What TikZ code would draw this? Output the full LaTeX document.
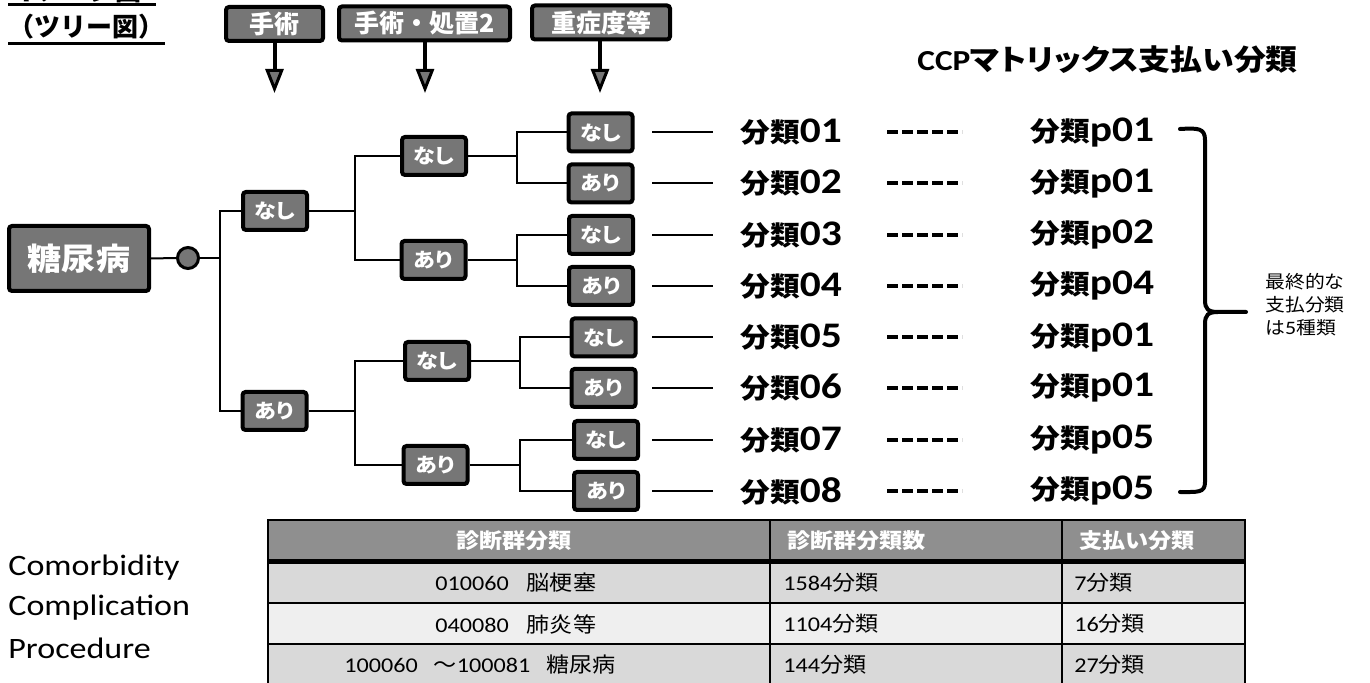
\documentclass[tikz,border=0pt]{standalone}
\usepackage{fontspec}
\setmainfont{Carlito}[FakeStretch=1.15]
\newfontfamily\J{Noto Sans CJK JP}[RawFeature=+palt,FakeStretch=1.1]
\newfontfamily\JN{Noto Sans CJK JP}[FakeStretch=1.1]
\newfontfamily\JW{Noto Sans CJK JP}
\usetikzlibrary{arrows.meta,calc}
\definecolor{boxgray}{HTML}{767676}
\definecolor{hdrgray}{HTML}{8F8F8F}
\definecolor{rowA}{HTML}{D9D9D9}
\definecolor{rowB}{HTML}{EFEFEF}
\newcommand{\fs}[1]{\fontsize{#1}{#1}\selectfont}
\newcommand{\jc}[1]{{\J\fs{10.5pt}#1}}
\begin{document}
\begin{tikzpicture}[x=0.5pt,y=-0.5pt,
  gbox/.style={draw=black,line width=2pt,fill=boxgray,rounded corners=1.5pt,text=white,inner sep=0pt,font=\J\bfseries\fs{10pt}},
  lvbox/.style={gbox,minimum width=32pt,minimum height=19pt},
  hbox/.style={gbox,minimum height=17pt,font=\JW\bfseries\fs{12.5pt}},
  tl/.style={line width=1pt},
  harrow/.style={line width=2pt,-{Triangle[width=9pt,length=12pt,fill=boxgray,line width=1.5pt]}},
  cls/.style={anchor=west,inner sep=0pt,font=\bfseries\fs{18pt}},
  dsh/.style={line width=2pt,dash pattern=on 5.5pt off 2pt},
  cell/.style={font=\fs{10.5pt},inner sep=0pt},
  hcell/.style={font=\J\bfseries\fs{10.5pt},text=white}
]
\useasboundingbox (0,0) rectangle (1370,683);
% title
\node[anchor=west,font=\JW\bfseries\fs{13pt},inner sep=0pt] (ttop) at (12,-9) {イメージ図};
\draw[line width=1.5pt] (8,5) -- (156,5);
\node[anchor=west,font=\JW\bfseries\fs{13pt},inner sep=0pt] (ttl) at (8,27) {（ツリー図）};
\draw[line width=1.5pt] (ttl.south west |- 0,44) -- (ttl.south east |- 0,44);
% header boxes
\node[hbox,minimum width=48.5pt] (h1) at (274.5,24) {手術};
\node[hbox,minimum width=85.5pt] (h2) at (424.5,23.5) {手術・処置2};
\node[hbox,minimum width=69pt] (h3) at (601,22.5) {重症度等};
\coordinate (t1) at (274.5,93);
\coordinate (t2) at (425,93);
\coordinate (t3) at (600,93);
\draw[harrow] (h1.south) -- (t1);
\draw[harrow] (h2.south -| t2) -- (t2);
\draw[harrow] (h3.south -| t3) -- (t3);
% CCP title
\node[anchor=west,inner sep=0pt,font=\bfseries\fs{14.5pt}] (ccp) at (917,60) {CCP{\J マトリックス支払い分類}};
% root
\node[gbox,minimum width=70pt,minimum height=32.5pt,font=\J\bfseries\fs{15.5pt}] (dm) at (79,258.5) {糖尿病};
\node[circle,draw=black,line width=1.5pt,fill=boxgray,minimum size=10.5pt,inner sep=0pt] (circ) at (188,258) {};
% level 1
\node[lvbox] (n1) at (275,211) {なし};
\node[lvbox] (a1) at (274.5,411) {あり};
% level 2
\node[lvbox] (n2a) at (434,156) {なし};
\node[lvbox] (a2a) at (433.5,260) {あり};
\node[lvbox] (n2b) at (437,361) {なし};
\node[lvbox] (a2b) at (435.5,465) {あり};
% level 3
\node[lvbox] (b1) at (600.5,132.5) {なし};
\node[lvbox] (b2) at (600.5,183.5) {あり};
\node[lvbox] (b3) at (601,235) {なし};
\node[lvbox] (b4) at (601,286) {あり};
\node[lvbox] (b5) at (603.5,337.5) {なし};
\node[lvbox] (b6) at (603.5,388) {あり};
\node[lvbox] (b7) at (606,440) {なし};
\node[lvbox] (b8) at (606,491) {あり};
% connectors
\coordinate (j0) at (220,258);
\draw[tl] (dm.east) -- (circ.west);
\draw[tl] (circ.east) -- (j0);
\draw[tl] (n1.west) -| (j0) |- (a1.west);
\coordinate (j1) at (355,211);
\coordinate (j2) at (355,411);
\draw[tl] (n1.east) -- (j1);
\draw[tl] (a1.east) -- (j2);
\draw[tl] (n2a.west) -| (j1) |- (a2a.west);
\draw[tl] (n2b.west) -| (j2) |- (a2b.west);
\coordinate (k1) at (517,156);
\coordinate (k2) at (517,260);
\coordinate (k3) at (520,361);
\coordinate (k4) at (520,465);
\draw[tl] (n2a.east) -- (k1);
\draw[tl] (a2a.east) -- (k2);
\draw[tl] (n2b.east) -- (k3);
\draw[tl] (a2b.east) -- (k4);
\draw[tl] (b1.west) -| (k1) |- (b2.west);
\draw[tl] (b3.west) -| (k2) |- (b4.west);
\draw[tl] (b5.west) -| (k3) |- (b6.west);
\draw[tl] (b7.west) -| (k4) |- (b8.west);
% results
\foreach \i/\p in {1/01,2/01,3/02,4/04,5/01,6/01,7/05,8/05}{
  \coordinate (s\i) at (b\i.center -| 652,0);
  \coordinate (e\i) at (b\i.center -| 713,0);
  \draw[tl] (s\i) -- (e\i);
  \node[cls] (c\i) at (b\i.center -| 740,0) {{\J\fs{13.5pt}分類}0\i};
  \coordinate (ds\i) at (b\i.center -| 887,0);
  \coordinate (de\i) at (b\i.center -| 962,0);
  \draw[dsh] (ds\i) -- (de\i);
  \node[cls] (p\i) at (b\i.center -| 1030,0) {{\J\fs{13.5pt}分類}p\p};
}
% brace
\draw[line width=2pt,line cap=round] (1180,129) .. controls (1198,128) and (1205,128) .. (1205,140)
  -- (1205,300) .. controls (1205,309) and (1208,312) .. (1218,312) -- (1246,312)
  (1218,312) .. controls (1208,312) and (1205,315) .. (1205,324)
  -- (1205,482) .. controls (1205,493) and (1198,492) .. (1180,492);
\node[anchor=west,inner sep=0pt,font=\JN\fs{9pt}] (note1) at (1265,282) {最終的な};
\node[anchor=west,inner sep=0pt,font=\JN\fs{9pt}] (note2) at (1265,305) {支払分類};
\node[anchor=west,inner sep=0pt,font=\JN\fs{9pt}] (note3) at (1265,328) {は{\rmfamily\fs{9.5pt}5}種類};
% left texts
\node[anchor=west,inner sep=0pt,font=\fs{14.8pt}] (l1) at (8,568) {Comorbidity};
\node[anchor=west,inner sep=0pt,font=\fs{14.8pt}] (l2) at (8,608) {Complication};
\node[anchor=west,inner sep=0pt,font=\fs{14.8pt}] (l3) at (8,648) {Procedure};
% table
\fill[hdrgray] (268,520) rectangle (1245,561);
\fill[rowA] (268,563) rectangle (1245,603);
\fill[rowB] (268,603) rectangle (1245,644);
\fill[rowA] (268,644) rectangle (1245,690);
\draw[line width=1pt] (268,603) -- (1245,603) (268,644) -- (1245,644);
\draw[line width=2.5pt] (268,562) -- (1245,562);
\draw[line width=1pt] (770,520) -- (770,690) (1062,520) -- (1062,690);
\draw[line width=1pt] (268,690) -- (268,520) -- (1245,520) -- (1245,690);
\node[hcell] (th1) at (514,541) {診断群分類};
\node[hcell,anchor=west] (th2) at (780,541) {診断群分類数};
\node[hcell,anchor=west] (th3) at (1072,541) {支払い分類};
\node[cell,anchor=west] (r11) at (435,583) {010060\hspace{9pt}\jc{脳梗塞}};
\node[cell,anchor=west] (r21) at (435,624) {040080\hspace{9pt}\jc{肺炎等}};
\node[cell,anchor=west] (r31) at (344,665) {100060\hspace{8pt}\jc{～}100081\hspace{8pt}\jc{糖尿病}};
\node[cell,anchor=west] (r12) at (783,583) {1584\jc{分類}};
\node[cell,anchor=west] (r22) at (783,624) {1104\jc{分類}};
\node[cell,anchor=west] (r32) at (783,665) {144\jc{分類}};
\node[cell,anchor=west] (r13) at (1074,583) {7\jc{分類}};
\node[cell,anchor=west] (r23) at (1074,624) {16\jc{分類}};
\node[cell,anchor=west] (r33) at (1074,665) {27\jc{分類}};
\end{tikzpicture}
\end{document}
